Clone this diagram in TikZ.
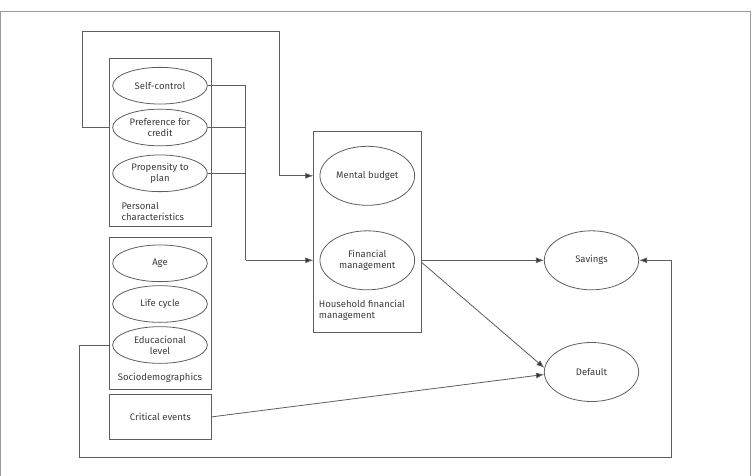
\documentclass[tikz,border=0pt]{standalone}
\usepackage{fontspec}
\setmainfont{Fira Sans}
\usetikzlibrary{shapes.geometric,arrows.meta}
\definecolor{linegray}{HTML}{5E5E5E}
\definecolor{textgray}{HTML}{3C3C3C}
\definecolor{framegray}{HTML}{9A9A9A}
\definecolor{tipgray}{HTML}{333333}
\begin{document}
\begin{tikzpicture}[x=1pt,y=-1pt,
  txt/.style={font=\fontsize{9.5}{10.7}\selectfont, text=textgray},
  ln/.style={draw=linegray, line width=0.8pt},
  ell/.style={ellipse, ln, txt, minimum width=94.7pt, inner sep=0pt, align=center},
  smallell/.style={ell, minimum height=36.7pt},
  bigell/.style={ell, minimum height=59pt},
  grp/.style={rectangle, ln, anchor=north west, inner sep=0pt},
  arr/.style={ln, -{Latex[length=8pt,width=6pt,fill=tipgray]}},
]
\useasboundingbox (0,0) rectangle (752,476);
% outer frame
\draw[framegray, line width=0.9pt] (0.8,476) -- (0.8,11) -- (750.2,11) -- (750.2,476);

% personal characteristics
\node[grp, minimum width=101.4pt, minimum height=167.7pt] (pc) at (109.3,58.3) {};
\node[smallell] (sc) at (160,85.7) {Self-control};
\node[smallell] (pref) at (160,127.5) {Preference for\\credit};
\node[smallell] (prop) at (160,173.3) {Propensity to\\plan};
\node[txt, anchor=west, inner sep=0pt, align=left] (pclab) at (121.3,211.4) {Personal\\characteristics};

% sociodemographics
\node[grp, minimum width=101.4pt, minimum height=152pt] (sd) at (109.3,237.3) {};
\node[smallell] (age) at (160,263.3) {Age};
\node[smallell] (life) at (160,304) {Life cycle};
\node[smallell] (edu) at (160,345) {Educacional\\level};
\node[txt, inner sep=0pt] (sdlab) at (160,377.7) {Sociodemographics};

% critical events
\node[grp, minimum width=101.4pt, minimum height=44.4pt] (ce) at (109.3,394.3) {};
\node[txt] (celab) at (ce.center) {Critical events};

% household financial management
\node[grp, minimum width=107.4pt, minimum height=201.3pt] (hh) at (313.3,130.7) {};
\node[bigell] (mb) at (367.3,175.8) {Mental budget};
\node[bigell] (fm) at (367.3,260.3) {Financial\\management};
\node[txt, anchor=west, inner sep=0pt, align=left] (hhlab) at (318.7,310.3) {Household financial\\management};

% outcomes
\node[bigell, minimum width=94.4pt] (sav) at (591.5,260.3) {Savings};
\node[bigell, minimum width=94.4pt] (def) at (591.5,372) {Default};

% routing points
\coordinate (l1a) at (82.3,31.3);
\coordinate (l1b) at (279,31.3);
\coordinate (j) at (245.7,260.3);
\coordinate (c1) at (79,457.3);
\coordinate (c2) at (671.7,457.3);

% connectors
\draw[arr] (pc.west |- pref) -| (l1a) -- (l1b) |- (hh.west |- mb);
\draw[ln] (sc.east) -- (sc.east -| pc.east) -| (j);
\draw[ln] (pref.east) -- (j |- pref);
\draw[ln] (prop.east) -- (j |- prop);
\draw[arr] (j) -- (hh.west |- fm);
\draw[arr] (hh.east |- fm) -- (sav.west);
\draw[arr] ([yshift=-2pt]hh.east |- fm) -- (def.175);
\draw[arr] (ce.east) -- (def.183);
\draw[arr] (sd.west |- edu) -| (c1) -- (c2) |- (sav.east);
\end{tikzpicture}
\end{document}
